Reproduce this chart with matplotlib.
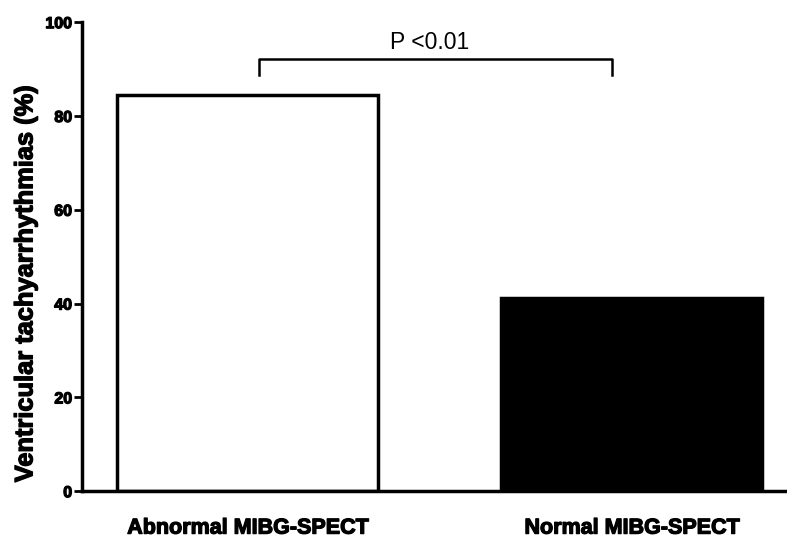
import matplotlib
matplotlib.use("Agg")
from matplotlib import pyplot as plt
from matplotlib import patheffects

groups = ["Abnormal MIBG-SPECT", "Normal MIBG-SPECT"]
values = [84.4, 41.3]
colors = ["white", "black"]
yticks = [0, 20, 40, 60, 80, 100]
p_text = "P <0.01"

plt.rcParams["font.family"] = ["Liberation Sans", "DejaVu Sans"]

# thicker strokes to imitate the heavy original font
heavy = [patheffects.withStroke(linewidth=0.9, foreground="black")]

fig = plt.figure(figsize=[7.87, 5.41], dpi=100)
ax = fig.add_axes([0.104, 0.092, 0.896, 0.867])

x = list(range(len(groups)))
ax.bar(x, values, width=0.68, color=colors, edgecolor="black", linewidth=2.5)

ax.set_xlim(-0.432, 1.404)
ax.set_ylim(0, 100)
ax.set_yticks(yticks)
ax.set_yticklabels([str(t) for t in yticks], fontsize=11.5, fontweight="bold")
ax.set_xticks(x)
ax.set_xticklabels(groups, fontsize=15.5, fontweight="bold")
ax.tick_params(axis="x", length=0, pad=19)
ax.tick_params(axis="y", length=6, width=2, pad=1)
ax.set_ylabel("Ventricular tachyarrhythmias (%)", fontsize=18.3, fontweight="bold")
ax.yaxis.set_label_coords(-0.063, 0.441)

for lab in ax.get_xticklabels() + ax.get_yticklabels() + [ax.yaxis.label]:
    lab.set_path_effects(heavy)

for side in ["top", "right"]:
    ax.spines[side].set_visible(False)
for side in ["left", "bottom"]:
    ax.spines[side].set_linewidth(2.5)

# significance bracket
ax.plot([0.03, 0.03, 0.948, 0.948], [88.7, 92.1, 92.1, 88.7], color="black", linewidth=1.8)
ax.text(0.474, 93.3, p_text, ha="center", va="bottom", fontsize=16.5)

fig.savefig("out.png", dpi=100)
